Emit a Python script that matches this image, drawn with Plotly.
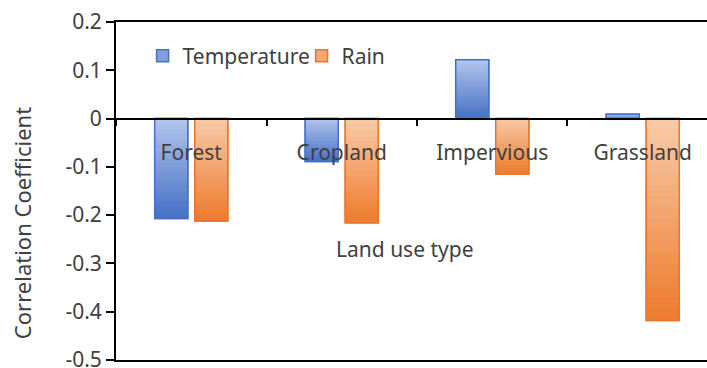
import plotly.graph_objects as go

# Land use categories and correlation coefficients
categories = ["Forest", "Cropland", "Impervious", "Grassland"]
temperature = [-0.207, -0.089, 0.122, 0.009]
rain = [-0.212, -0.216, -0.115, -0.418]

y_ticks = [0.2, 0.1, 0, -0.1, -0.2, -0.3, -0.4, -0.5]
y_tick_labels = ["0.2", "0.1", "0", "-0.1", "-0.2", "-0.3", "-0.4", "-0.5"]

FONT = "Noto Sans"
TEXT = "#404040"
Y_MIN, Y_MAX = -0.5, 0.2
N_BANDS = 18  # slices used to shade each bar from light (top) to dark (bottom)


def blend(c1, c2, t):
    a = [int(c1[i:i + 2], 16) for i in (1, 3, 5)]
    b = [int(c2[i:i + 2], 16) for i in (1, 3, 5)]
    r, g, bl = (round(a[j] + (b[j] - a[j]) * t) for j in range(3))
    return f"rgb({r},{g},{bl})"


series = [
    ("Temperature", temperature, "#b4c6ec", "#4470c6", "#4472c4", "temp"),
    ("Rain", rain, "#f8cba8", "#ee7b2e", "#e8772c", "rain"),
]

fig = go.Figure()
for name, vals, light, dark, edge, group in series:
    # base bar: carries the legend entry and the outline
    fig.add_trace(go.Bar(
        x=categories, y=vals, name=name, offsetgroup=group, legendgroup=group,
        marker=dict(color=blend(light, dark, 0.45), line=dict(color=edge, width=1.5)),
    ))
    # vertical shading, lighter towards the top of each bar
    for k in range(N_BANDS):
        base = [v * k / N_BANDS for v in vals]
        part = [v / N_BANDS for v in vals]
        shades = [
            blend(light, dark, (k + 0.5) / N_BANDS if v < 0
                  else (N_BANDS - k - 0.5) / N_BANDS)
            for v in vals
        ]
        fig.add_trace(go.Bar(
            x=categories, y=part, base=base, offsetgroup=group, legendgroup=group,
            showlegend=False, hoverinfo="skip",
            marker=dict(color=shades, line=dict(color=shades, width=0.6)),
        ))
    # outline on top of the shading
    fig.add_trace(go.Bar(
        x=categories, y=vals, offsetgroup=group, legendgroup=group,
        showlegend=False, hoverinfo="skip",
        marker=dict(color="rgba(0,0,0,0)", line=dict(color=edge, width=1.5)),
    ))

# invisible trace that carries the category axis drawn along y = 0
fig.add_trace(go.Bar(x=categories, y=[None] * len(categories), xaxis="x2",
                     showlegend=False, hoverinfo="skip"))

zero_pos = (0 - Y_MIN) / (Y_MAX - Y_MIN)

fig.update_layout(
    width=707, height=368,
    margin=dict(l=116, r=0, t=22, b=8, autoexpand=False),
    paper_bgcolor="white", plot_bgcolor="white",
    font=dict(family=FONT, size=21, color=TEXT),
    barmode="group", bargap=0.468, bargroupgap=0.175,
    showlegend=True,
    legend=dict(orientation="h", x=0.045, y=0.96, xanchor="left", yanchor="top",
                font=dict(size=21, color=TEXT), bgcolor="rgba(0,0,0,0)",
                itemwidth=30, tracegroupgap=0, entrywidth=114,
                entrywidthmode="pixels"),
    xaxis=dict(type="category", range=[-0.5, 3.427], showline=True, mirror=True,
               linecolor="black", linewidth=2, ticks="", showticklabels=False,
               showgrid=False, zeroline=False, automargin=False),
    xaxis2=dict(type="category", overlaying="x", matches="x", anchor="free",
                position=zero_pos, side="bottom", showline=True, linecolor="black",
                linewidth=2, ticks="outside", ticklen=6, tickwidth=2,
                tickcolor="black", tickson="boundaries", ticklabelstandoff=15,
                tickfont=dict(size=21, color=TEXT), showgrid=False,
                zeroline=False, layer="above traces", automargin=False),
    yaxis=dict(range=[Y_MIN, Y_MAX], tickvals=y_ticks, ticktext=y_tick_labels,
               showline=True, linecolor="black", linewidth=2, ticks="outside",
               ticklen=8, tickwidth=2, tickcolor="black", showgrid=False,
               zeroline=False, ticklabeloverflow="allow", automargin=False,
               tickfont=dict(size=21, color=TEXT)),
    annotations=[
        dict(text="Correlation Coefficient", textangle=-90, xref="paper",
             yref="paper", x=-0.159, y=0.405, xanchor="center", yanchor="middle",
             showarrow=False, font=dict(size=22, color=TEXT)),
        dict(text="Land use type", xref="paper", yref="y", x=0.489, y=-0.27,
             xanchor="center", yanchor="middle", showarrow=False,
             font=dict(size=21, color=TEXT)),
    ],
)

fig.write_html("out.html")
